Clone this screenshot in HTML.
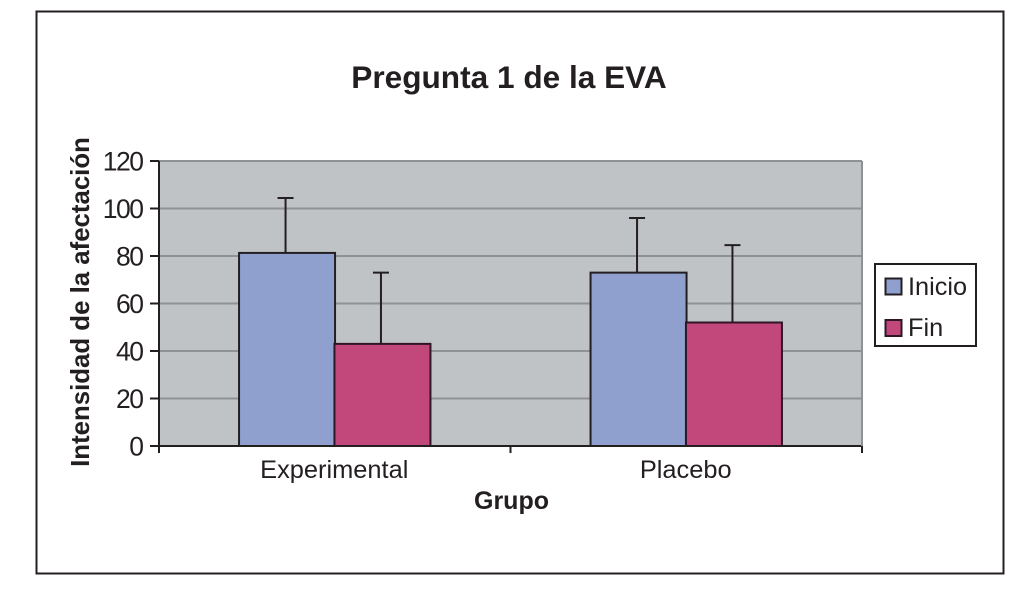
<!DOCTYPE html>
<html lang="es">
<head>
<meta charset="utf-8">
<title>Pregunta 1 de la EVA</title>
<style>
html,body{margin:0;padding:0;background:#fff;}
svg{display:block;font-family:"Liberation Sans",Arial,sans-serif;}
</style>
</head>
<body>
<svg id="chart" width="1029" height="600" viewBox="0 0 1029 600" xmlns="http://www.w3.org/2000/svg">
  <rect x="0" y="0" width="1029" height="600" fill="#ffffff"/>
  <rect x="36.5" y="11.5" width="967" height="562" fill="#ffffff" stroke="#231f20" stroke-width="2"/>
  <text x="509" y="88" font-size="31.6" font-weight="700" fill="#231f20" text-anchor="middle">Pregunta 1 de la EVA</text>
  <rect x="159" y="161" width="703" height="285" fill="#c0c3c5"/>
  <g id="gridlines"></g>
  <g id="bars"></g>
  <g id="axes"></g>
  <text transform="translate(89,302) rotate(-90)" font-size="25.8" font-weight="700" fill="#231f20" text-anchor="middle">Intensidad de la afectación</text>
  <text x="511.5" y="509" font-size="25" font-weight="700" fill="#231f20" text-anchor="middle">Grupo</text>
  <g>
    <rect x="875" y="264" width="101" height="82" fill="#ffffff" stroke="#231f20" stroke-width="2"/>
    <rect x="885.5" y="278.5" width="16" height="16" fill="#8f9fce" stroke="#231f20" stroke-width="2"/>
    <text x="908" y="295" font-size="25.3" fill="#231f20">Inicio</text>
    <rect x="885.5" y="320" width="16" height="16" fill="#c2477b" stroke="#2e1626" stroke-width="2"/>
    <text x="908" y="336" font-size="25.3" fill="#231f20">Fin</text>
  </g>
</svg>
<script>
const categories = ["Experimental", "Placebo"];
const inicioValues = [81.3, 73];
const finValues = [43, 52];
const inicioErrorTops = [104.4, 96];
const finErrorTops = [73, 84.6];
const yTicks = [0, 20, 40, 60, 80, 100, 120];

const plotLeft = 159, plotRight = 862, plotTop = 161, plotBottom = 446;
const yMax = 120;
const barWidth = 96;
const ink = "#231f20";
const NS = "http://www.w3.org/2000/svg";

function yScale(v) {
  return plotBottom - (v / yMax) * (plotBottom - plotTop);
}
function categoryCenter(i) {
  return plotLeft + (plotRight - plotLeft) * (i + 0.5) / categories.length;
}
function make(tag, attrs, parent) {
  const el = document.createElementNS(NS, tag);
  for (const k in attrs) el.setAttribute(k, attrs[k]);
  parent.appendChild(el);
  return el;
}

const gridGroup = document.getElementById("gridlines");
const barsGroup = document.getElementById("bars");
const axesGroup = document.getElementById("axes");

yTicks.forEach(function (t) {
  if (t === 0) return;
  const line = make("line", {x1: plotLeft, x2: plotRight, y1: yScale(t), y2: yScale(t), stroke: "#8f9294", "stroke-width": 2}, gridGroup);
  
  
});

function drawBar(center, offset, value, errTop, fill, edge, name) {
  const x = center + offset;
  const top = yScale(value);
  const errY = yScale(errTop);
  const cx = x + barWidth / 2 - 1.5;
  const stem = make("line", {x1: cx, x2: cx, y1: top, y2: errY, stroke: ink, "stroke-width": 2}, barsGroup);
  
  
  const cap = make("line", {x1: cx - 8, x2: cx + 8, y1: errY, y2: errY, stroke: ink, "stroke-width": 2}, barsGroup);
  
  
  const bar = make("rect", {x: x, y: top, width: barWidth, height: plotBottom - top, fill: fill, stroke: edge, "stroke-width": 2}, barsGroup);
  
  
}

categories.forEach(function (c, i) {
  const center = categoryCenter(i);
  const key = c.toLowerCase();
  drawBar(center, -barWidth + 0.3, inicioValues[i], inicioErrorTops[i], "#8f9fce", ink, "inicio-" + key);
  drawBar(center, -0.3, finValues[i], finErrorTops[i], "#c2477b", "#2e1626", "fin-" + key);

  const label = make("text", {x: center - 0.5, y: 478, "font-size": 25.4, fill: ink, "text-anchor": "middle"}, axesGroup);
  
  
  label.textContent = c;
});

const yAxis = make("line", {x1: plotLeft, x2: plotLeft, y1: plotTop, y2: plotBottom + 7, stroke: ink, "stroke-width": 2}, axesGroup);


const xAxis = make("line", {x1: plotLeft, x2: plotRight, y1: plotBottom, y2: plotBottom, stroke: ink, "stroke-width": 2}, axesGroup);


const rightEdge = make("line", {x1: plotRight, x2: plotRight, y1: plotTop, y2: plotBottom, stroke: "#8f9294", "stroke-width": 2}, axesGroup);



yTicks.forEach(function (t) {
  const y = yScale(t);
  const tick = make("line", {x1: plotLeft - 9, x2: plotLeft, y1: y, y2: y, stroke: ink, "stroke-width": 2}, axesGroup);
  
  
  const label = make("text", {x: plotLeft - 16.5, y: y + 9.5, "font-size": 26.5, "letter-spacing": "-1.5", fill: ink, "text-anchor": "end"}, axesGroup);
  
  
  label.textContent = t;
});

for (let i = 0; i <= categories.length; i++) {
  const x = plotLeft + (plotRight - plotLeft) * i / categories.length;
  const tick = make("line", {x1: x, x2: x, y1: plotBottom, y2: plotBottom + 7, stroke: ink, "stroke-width": 2}, axesGroup);
  
  
}
</script>
</body>
</html>
